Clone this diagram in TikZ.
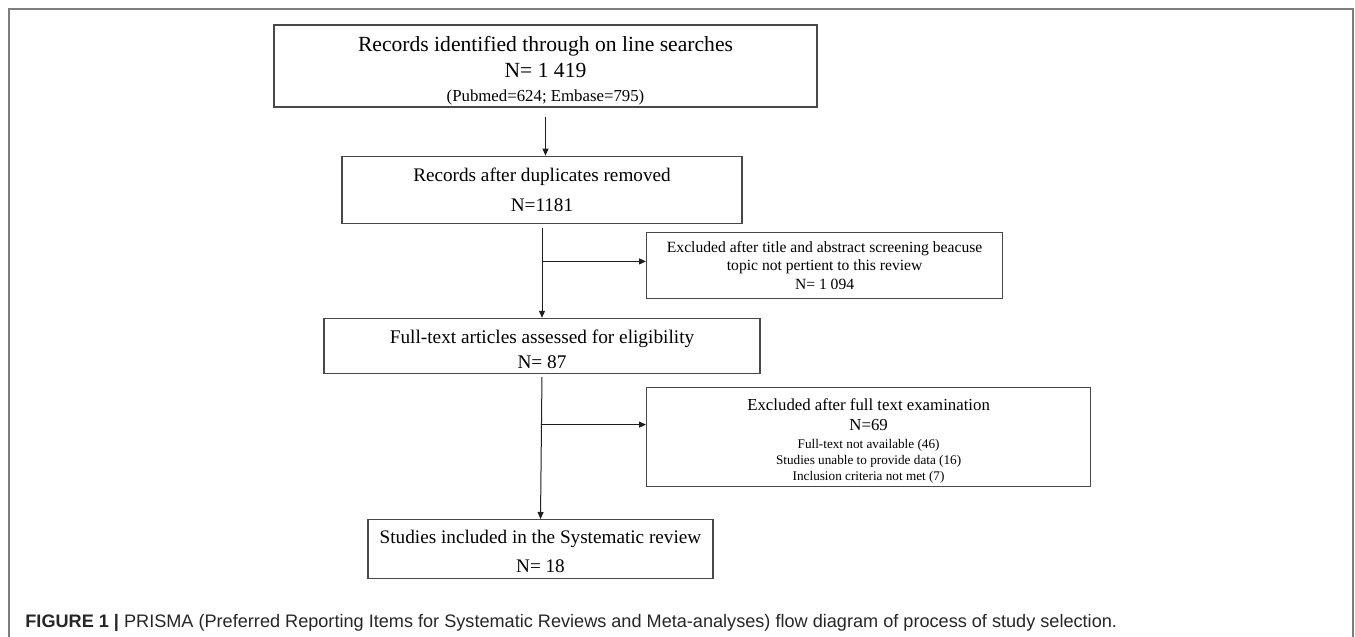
\documentclass[tikz,border=0pt]{standalone}
\usepackage{fontspec}
\setmainfont{Liberation Serif}
\setsansfont{Liberation Sans}
\usepackage{tikz}
\usetikzlibrary{arrows.meta,positioning,calc}
\definecolor{cBox}{HTML}{484848}
\definecolor{cArr}{HTML}{1E1E1E}
\definecolor{cFrm}{HTML}{7D7D7D}
\definecolor{cCap}{HTML}{262626}
\tikzset{
  pbox/.style={draw=cBox, line width=0.6pt, align=center, inner sep=0pt, minimum width=#1},
  parr/.style={-{Triangle[length=3.5pt,width=3pt]}, line width=0.5pt, draw=cArr},
  pfrm/.style={draw=cFrm, line width=0.6pt},
  pcap/.style={font=\sffamily\fontsize{9.06}{11}\selectfont, text=cCap, anchor=base west, inner sep=0pt},
}
\newcommand{\fsz}[2]{\fontsize{#1}{#2}\selectfont}
\newcommand{\lift}[1]{\rule{0pt}{#1}}

\begin{document}
\begin{tikzpicture}[node distance=0pt]
\useasboundingbox (0,0) rectangle (677.5pt,-318.5pt);
\draw[pfrm] (4.5pt,-330pt) -- (4.5pt,-4.5pt) -- (676.5pt,-4.5pt) -- (676.5pt,-330pt);
\node[pbox=271.5pt, minimum height=41pt, font=\fsz{10.8}{13}] (s1) at (272.75pt,-33pt)
  {\lift{12.4pt}Records identified through on line searches\\ N= 1 419\\[-1.2pt] {\fsz{8.4}{10}(Pubmed=624; Embase=795)}};
\node[pbox=200pt, minimum height=33.5pt, font=\fsz{9.6}{15}, below=24pt of s1, xshift=-1.75pt] (s2)
  {Records after duplicates removed\\ N=1181};
\node[pbox=218pt, minimum height=27.5pt, font=\fsz{9.65}{12.5}, below=47pt of s2] (s3)
  {\lift{10.1pt}Full-text articles assessed for eligibility\\ N= 87};
\node[pbox=172.5pt, minimum height=29.5pt, font=\fsz{9.6}{14.5}, below=72.5pt of s3, xshift=-0.75pt] (s4)
  {\lift{8.6pt}Studies included in the Systematic review\\ N= 18};
\node[pbox=178pt, minimum height=33pt, font=\fsz{7.8}{9.25}, below right=4pt and 52pt of s2.south] (e1)
  {Excluded after title and abstract screening beacuse\\ topic not pertient to this review\\ N= 1 094};
\node[pbox=222pt, minimum height=49.5pt, font=\fsz{6.6}{8}, below right=6.5pt and 52pt of s3.south] (e2)
  {{\fsz{8.4}{10}\lift{9.7pt}Excluded after full text examination}\\[2pt] {\fsz{8.4}{10}N=69}\\[1.2pt]
   Full-text not available (46)\\ Studies unable to provide data (16)\\ Inclusion criteria not met (7)};
\node[pcap] (cap) at (12.5pt,-313.5pt) {\textbf{FIGURE 1 |} PRISMA (Preferred Reporting Items for Systematic Reviews and Meta-analyses) flow diagram of process of study selection.};
\draw[parr, shorten <=4.5pt] (s1.south) -- (s1.south |- s2.north);
\draw[parr, shorten <=2pt] (s2.south) -- (s3.north);
\draw[parr, shorten <=1.5pt] (s3.south) -- (s4.north);
\draw[parr] ([yshift=2pt]e1.west -| s2.south) -- ([yshift=2pt]e1.west);
\draw[parr] ([yshift=6.25pt]e2.west -| s3.south) -- ([yshift=6.25pt]e2.west);
\end{tikzpicture}
\end{document}
